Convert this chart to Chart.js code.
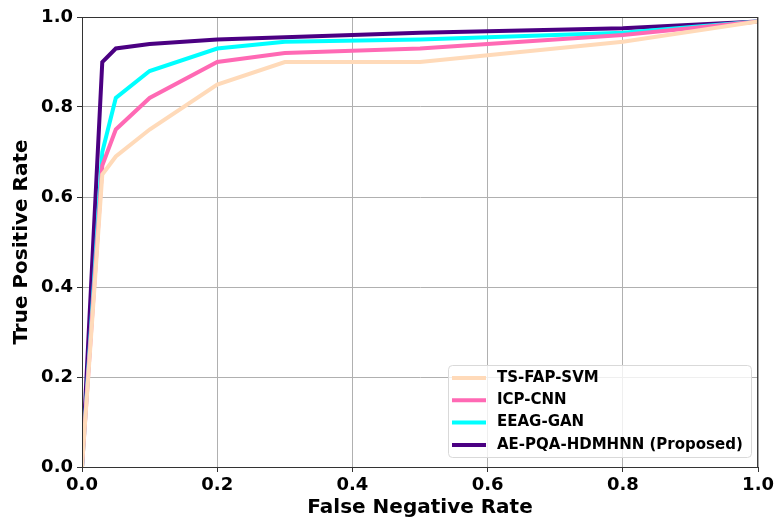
<!DOCTYPE html>
<html>
<head>
<meta charset="utf-8">
<script src="https://cdn.jsdelivr.net/npm/chart.js@4/dist/chart.umd.min.js"></script>
<style>
  html, body { margin: 0; padding: 0; background: #fff; }
  #wrap { width: 777px; height: 521px; }
</style>
</head>
<body>
<div id="wrap"><canvas id="roc" width="777" height="521"></canvas></div>
<script>
// Dados das curvas
const fnr = [0, 0.03, 0.05, 0.1, 0.2, 0.3, 0.5, 0.8, 1.0];
const tsFapSvm = [0, 0.65, 0.69, 0.75, 0.85, 0.90, 0.90, 0.945, 0.99];
const icpCnn = [0, 0.67, 0.75, 0.82, 0.90, 0.92, 0.93, 0.96, 0.99];
const eeagGan = [0, 0.70, 0.82, 0.88, 0.93, 0.945, 0.95, 0.965, 0.99];
const aePqa = [0, 0.90, 0.93, 0.94, 0.95, 0.955, 0.965, 0.975, 0.99];

const labels = ['TS-FAP-SVM', 'ICP-CNN', 'EEAG-GAN', 'AE-PQA-HDMHNN (Proposed)'];
const colors = ['#FFDAB9', '#FF69B4', '#00FFFF', '#4B0082'];
const series = [tsFapSvm, icpCnn, eeagGan, aePqa];

const font = "'DejaVu Sans', sans-serif";

const datasets = series.map((vals, i) => ({
  label: labels[i],
  data: vals.map((v, j) => ({ x: fnr[j], y: v })),
  borderColor: colors[i],
  backgroundColor: colors[i],
  borderWidth: 4,
  pointRadius: 0,
  tension: 0,
  fill: false
}));

// Moldura e legenda estilo matplotlib
const frame = {
  id: 'frame',
  afterDraw(chart) {
    const { ctx, chartArea: a } = chart;
    ctx.save();
    ctx.strokeStyle = '#333';
    ctx.lineWidth = 1;
    ctx.strokeRect(a.left + 0.5, a.top + 0.5, a.right - a.left - 1, a.bottom - a.top);

    // legenda
    const bx = 448, by = 365, bw = 303, bh = 92;
    ctx.fillStyle = 'rgba(255,255,255,0.8)';
    ctx.strokeStyle = '#d9d9d9';
    ctx.beginPath();
    ctx.roundRect(bx + 0.5, by + 0.5, bw, bh, 4);
    ctx.fill();
    ctx.stroke();
    ctx.font = 'bold 15px ' + font;
    ctx.textBaseline = 'middle';
    chart.data.datasets.forEach((ds, i) => {
      const y = by + 13 + i * 22.3;
      ctx.strokeStyle = ds.borderColor;
      ctx.lineWidth = 4;
      ctx.beginPath();
      ctx.moveTo(bx + 4, y);
      ctx.lineTo(bx + 38, y);
      ctx.stroke();
      ctx.fillStyle = '#000';
      ctx.fillText(ds.label, bx + 49, y);
    });
    ctx.restore();
  }
};

const ctx = document.getElementById('roc').getContext('2d');
const chart = new Chart(ctx, {
  type: 'line',
  data: { datasets: datasets },
  options: {
    responsive: false,
    animation: false,
    layout: { padding: { top: 17, right: 18, left: 0, bottom: 0 } },
    plugins: { legend: { display: false }, tooltip: { enabled: false } },
    scales: {
      x: {
        type: 'linear',
        min: 0,
        max: 1,
        afterFit(s) { s.height = 54; },
        ticks: {
          stepSize: 0.2,
          color: '#000',
          padding: 3,
          maxRotation: 0,
          font: { family: font, size: 18, weight: 'bold' },
          callback: v => v.toFixed(1)
        },
        grid: { color: '#b0b0b0', tickColor: '#333', tickLength: 5, lineWidth: 1 },
        border: { color: '#333' },
        title: {
          display: true,
          text: 'False Negative Rate',
          color: '#000',
          padding: { top: 0, bottom: 1 },
          font: { family: font, size: 20, weight: 'bold' }
        }
      },
      y: {
        min: 0,
        max: 1,
        afterFit(s) { s.width = 82; },
        ticks: {
          stepSize: 0.2,
          color: '#000',
          padding: 4,
          font: { family: font, size: 18, weight: 'bold' },
          callback: v => v.toFixed(1)
        },
        grid: { color: '#b0b0b0', tickColor: '#333', tickLength: 5, lineWidth: 1 },
        border: { color: '#333' },
        title: {
          display: true,
          text: 'True Positive Rate',
          color: '#000',
          padding: { top: 10, bottom: 4 },
          font: { family: font, size: 20, weight: 'bold' }
        }
      }
    }
  },
  plugins: [frame]
});
</script>
</body>
</html>
